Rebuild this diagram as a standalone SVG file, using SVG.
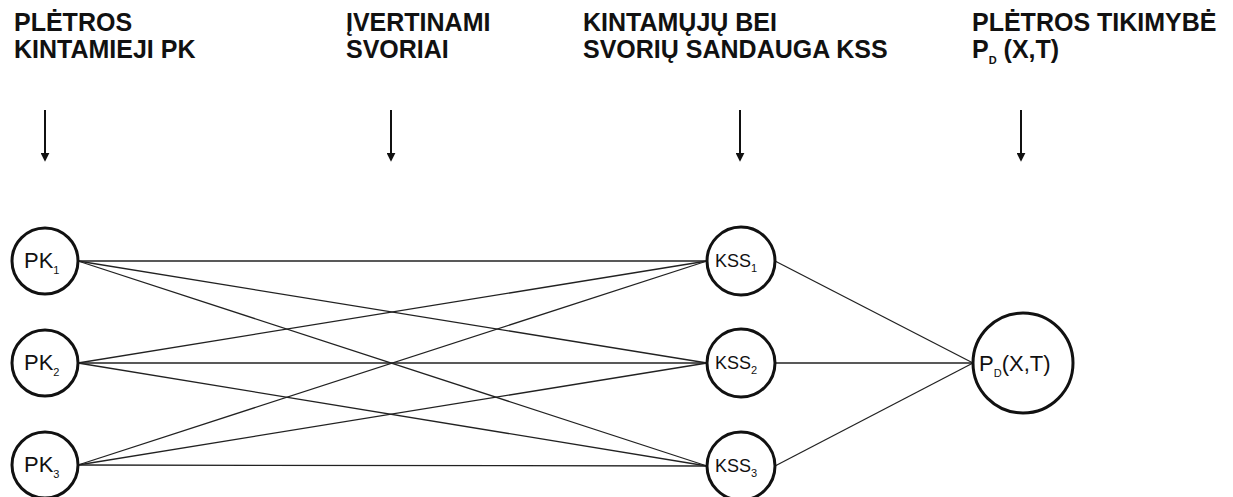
<svg xmlns="http://www.w3.org/2000/svg" width="1233" height="497" viewBox="0 0 1233 497">
<defs>
<style>
.hd{font-family:"Liberation Sans",Arial,sans-serif;font-weight:bold;font-size:25px;fill:#111}
.nl{font-family:"Liberation Sans",Arial,sans-serif;font-size:22px;fill:#111}
.ks{font-family:"Liberation Sans",Arial,sans-serif;font-size:18px;fill:#111}
.sub{font-size:11px}
.node{fill:#fff;stroke:#111;stroke-width:3}
.edge{stroke:#222;stroke-width:1.3;fill:none}
.arr{stroke:#111;stroke-width:2;fill:none}
</style>
<marker id="ah" viewBox="0 0 10 10" refX="8" refY="5" markerWidth="4.5" markerHeight="4.5" orient="auto" markerUnits="strokeWidth">
<path d="M0,0 L10,5 L0,10 z" fill="#111"/>
</marker>
</defs>
<rect width="1233" height="497" fill="#fff"/>
<g id="headers">
<text class="hd" x="14" y="31">PLĖTROS</text>
<text class="hd" x="14" y="58">KINTAMIEJI PK</text>
<text class="hd" x="346" y="31">ĮVERTINAMI</text>
<text class="hd" x="346" y="58">SVORIAI</text>
<text class="hd" x="583" y="31">KINTAMŲJŲ BEI</text>
<text class="hd" x="583" y="58">SVORIŲ SANDAUGA KSS</text>
<text class="hd" x="972" y="31">PLĖTROS TIKIMYBĖ</text>
<text class="hd" x="972" y="58">P<tspan class="sub" dy="6">D</tspan><tspan dy="-6"> (X,T)</tspan></text>
</g>
<g id="arrows">
<line class="arr" x1="45" y1="110" x2="45" y2="160" marker-end="url(#ah)"/>
<line class="arr" x1="391" y1="110" x2="391" y2="160" marker-end="url(#ah)"/>
<line class="arr" x1="740" y1="110" x2="740" y2="160" marker-end="url(#ah)"/>
<line class="arr" x1="1021" y1="110" x2="1021" y2="160" marker-end="url(#ah)"/>
</g>
<g id="connectors">
<line class="edge" x1="78" y1="261" x2="707" y2="261"/>
<line class="edge" x1="78" y1="261" x2="707" y2="363"/>
<line class="edge" x1="78" y1="261" x2="707" y2="466"/>
<line class="edge" x1="78" y1="363" x2="707" y2="261"/>
<line class="edge" x1="78" y1="363" x2="707" y2="363"/>
<line class="edge" x1="78" y1="363" x2="707" y2="466"/>
<line class="edge" x1="78" y1="465" x2="707" y2="261"/>
<line class="edge" x1="78" y1="465" x2="707" y2="363"/>
<line class="edge" x1="78" y1="465" x2="707" y2="466"/>
<line class="edge" x1="775" y1="261" x2="973" y2="363"/>
<line class="edge" x1="775" y1="363" x2="973" y2="363"/>
<line class="edge" x1="775" y1="466" x2="973" y2="363"/>
</g>
<g id="PK1"><circle class="node" cx="45" cy="261" r="33"/><text class="nl" x="24" y="268">PK<tspan class="sub" dy="6">1</tspan></text></g>
<g id="PK2"><circle class="node" cx="45" cy="363" r="33"/><text class="nl" x="24" y="370">PK<tspan class="sub" dy="6">2</tspan></text></g>
<g id="PK3"><circle class="node" cx="45" cy="465" r="33"/><text class="nl" x="24" y="472">PK<tspan class="sub" dy="6">3</tspan></text></g>
<g id="KSS1"><circle class="node" cx="741" cy="261" r="34"/><text class="ks" x="715" y="267">KSS<tspan class="sub" font-size="9" dy="5">1</tspan></text></g>
<g id="KSS2"><circle class="node" cx="741" cy="363" r="34"/><text class="ks" x="715" y="369">KSS<tspan class="sub" font-size="9" dy="5">2</tspan></text></g>
<g id="KSS3"><circle class="node" cx="741" cy="466" r="34"/><text class="ks" x="715" y="472">KSS<tspan class="sub" font-size="9" dy="5">3</tspan></text></g>
<g id="PD"><circle class="node" cx="1023" cy="363" r="50"/><text class="nl" x="979" y="371">P<tspan class="sub" dy="6">D</tspan><tspan dy="-6">(X,T)</tspan></text></g>
</svg>
